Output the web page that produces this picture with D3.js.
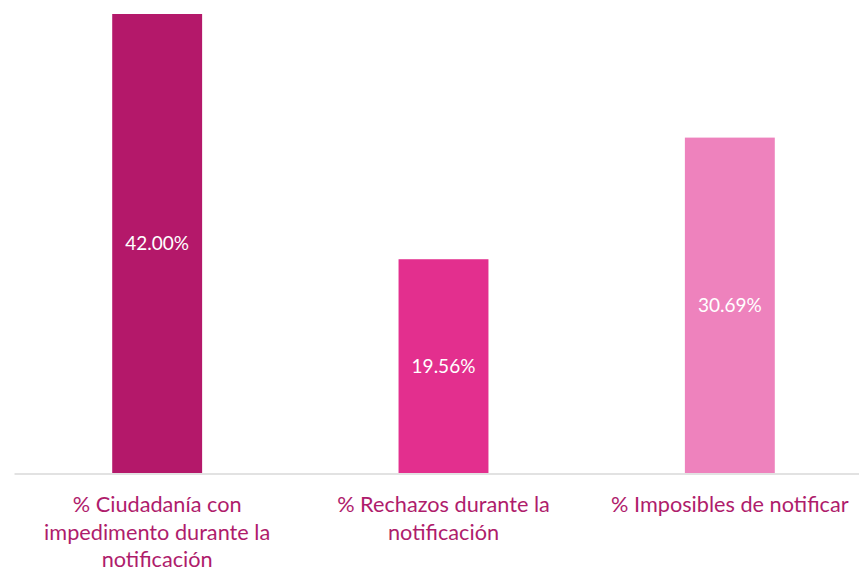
<!DOCTYPE html>
<html>
<head>
<meta charset="utf-8">
<script src="https://cdn.jsdelivr.net/npm/d3@7"></script>
<style>
  html, body { margin: 0; padding: 0; background: #ffffff; }
  svg { display: block; }
</style>
</head>
<body>
<svg id="chart" width="859" height="572"></svg>
<script>
// ---- Data ----
const categories = ["ciudadania", "rechazos", "imposibles"];
const categoryLabels = [
  ["% Ciudadanía con", "impedimento durante la", "notificación"],
  ["% Rechazos durante la", "notificación"],
  ["% Imposibles de notificar"]
];
const values = [42.00, 19.56, 30.69];
const valueLabels = ["42.00%", "19.56%", "30.69%"];
const barColors = ["#B4186A", "#E32F8E", "#EE82BD"];

// ---- Layout ----
const svg = d3.select("#chart");
const baseline = 473;
const plotTop = 14;
const font = "Lato, 'Open Sans', sans-serif";

const x = d3.scaleBand()
  .domain(categories)
  .range([14, 873])
  .paddingInner(0.686)
  .paddingOuter(0.343);

const y = d3.scaleLinear()
  .domain([0, 42])
  .range([baseline, plotTop]);

// Bars
svg.append("g").selectAll("rect")
  .data(categories)
  .join("rect")
  .attr("x", d => x(d))
  .attr("y", (d, i) => y(values[i]))
  .attr("width", x.bandwidth())
  .attr("height", (d, i) => y(0) - y(values[i]))
  .attr("fill", (d, i) => barColors[i]);

// Axis line
const axis = d3.axisBottom(x).tickSize(0).tickFormat("");
const gAxis = svg.append("g")
  .attr("transform", `translate(0,${baseline + 0.5})`)
  .call(axis);
gAxis.select(".domain").attr("stroke", "#d9d9d9").attr("stroke-width", 1.5);

// Value labels
svg.append("g").selectAll("text")
  .data(categories)
  .join("text")
  .attr("x", d => x(d) + x.bandwidth() / 2)
  .attr("y", (d, i) => (y(values[i]) + y(0)) / 2)
  .attr("dy", "0.35em")
  .attr("text-anchor", "middle")
  .attr("fill", "#ffffff")
  .attr("font-family", font)
  .attr("font-size", 19)
  .text((d, i) => valueLabels[i]);

// Category labels
const catG = svg.append("g").selectAll("text")
  .data(categories)
  .join("text")
  .attr("x", d => x(d) + x.bandwidth() / 2)
  .attr("y", 512)
  .attr("text-anchor", "middle")
  .attr("fill", "#AF1C6C")
  .attr("font-family", font)
  .attr("font-size", 21.7);

catG.each(function(d, i) {
  const t = d3.select(this);
  categoryLabels[i].forEach((line, j) => {
    t.append("tspan")
      .attr("x", x(d) + x.bandwidth() / 2)
      .attr("dy", j === 0 ? 0 : 27.5)
      .text(line);
  });
});
</script>
</body>
</html>
